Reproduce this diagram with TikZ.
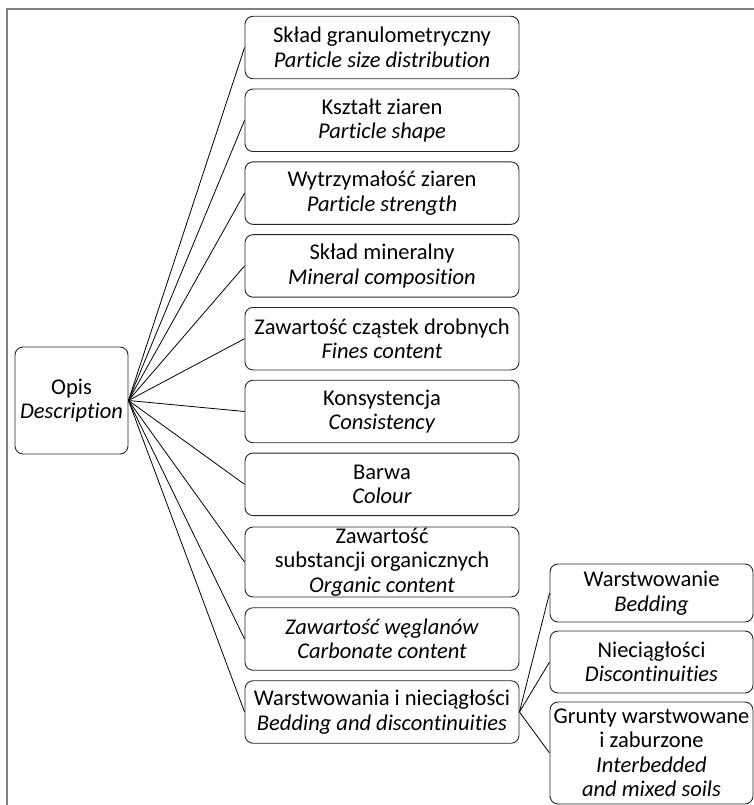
\documentclass[tikz,border=0pt]{standalone}
\usepackage{fontspec}
\setmainfont{Carlito}[Ligatures={NoCommon}]

\begin{document}
\begin{tikzpicture}[x=1pt, y=-1pt,
    box/.style={draw=black!85, line width=0.9pt, rounded corners=8pt,
      align=center, inner sep=0pt, font=\fontsize{22.5}{24.5}\selectfont},
    midbox/.style={box, minimum width=274pt, minimum height=62.5pt},
    subbox/.style={box, minimum width=203pt},
    link/.style={line width=0.8pt}]
    \useasboundingbox (0, 0) rectangle (754, 805);
    \draw [line width=1.8pt, black!50] (7, 805) |- (754, 9);

    \node [box, minimum width=113pt, minimum height=107pt] (opis) at (71.5, 400.5)
      {Opis\\\textit{Description}};

    \node [midbox] (size) at (382, 47.5) {Skład granulometryczny\\\textit{Particle size distribution}};
    \node [midbox] (shape) at (382, 120.3) {Kształt ziaren\\\textit{Particle shape}};
    \node [midbox] (strength) at (382, 193.1) {Wytrzymałość ziaren\\\textit{Particle strength}};
    \node [midbox] (mineral) at (382, 265.9) {Skład mineralny\\\textit{Mineral composition}};
    \node [midbox] (fines) at (382, 338.7) {Zawartość cząstek drobnych\\\textit{Fines content}};
    \node [midbox] (consist) at (382, 411.5) {Konsystencja\\\textit{Consistency}};
    \node [midbox] (colour) at (382, 484.3) {Barwa\\\textit{Colour}};
    \node [midbox, minimum height=70pt] (organic) at (382, 562)
      {Zawartość\\substancji organicznych\\\textit{Organic content}};
    \node [midbox] (carbon) at (382, 639) {\textit{Zawartość węglanów}\\\textit{Carbonate content}};
    \node [midbox] (bedmain) at (382, 712) {Warstwowania i nieciągłości\\\textit{Bedding and discontinuities}};

    \node [subbox, minimum height=58pt] (bedding) at (651.5, 593) {Warstwowanie\\\textit{Bedding}};
    \node [subbox, minimum height=62pt] (discont) at (651.5, 662) {Nieciągłości\\\textit{Discontinuities}};
    \node [subbox, minimum height=102pt] (mixed) at (651.5, 753)
      {Grunty warstwowane\\i zaburzone\\\textit{Interbedded}\\\textit{and mixed soils}};

    \foreach \n in {size, shape, strength, mineral, fines, consist, colour, organic, carbon, bedmain} {
      \draw [link] (opis.east) -- (\n.west);
    }
    \foreach \n in {bedding, discont, mixed} {
      \draw [link] (bedmain.east) -- (\n.west);
    }
\end{tikzpicture}
\end{document}
